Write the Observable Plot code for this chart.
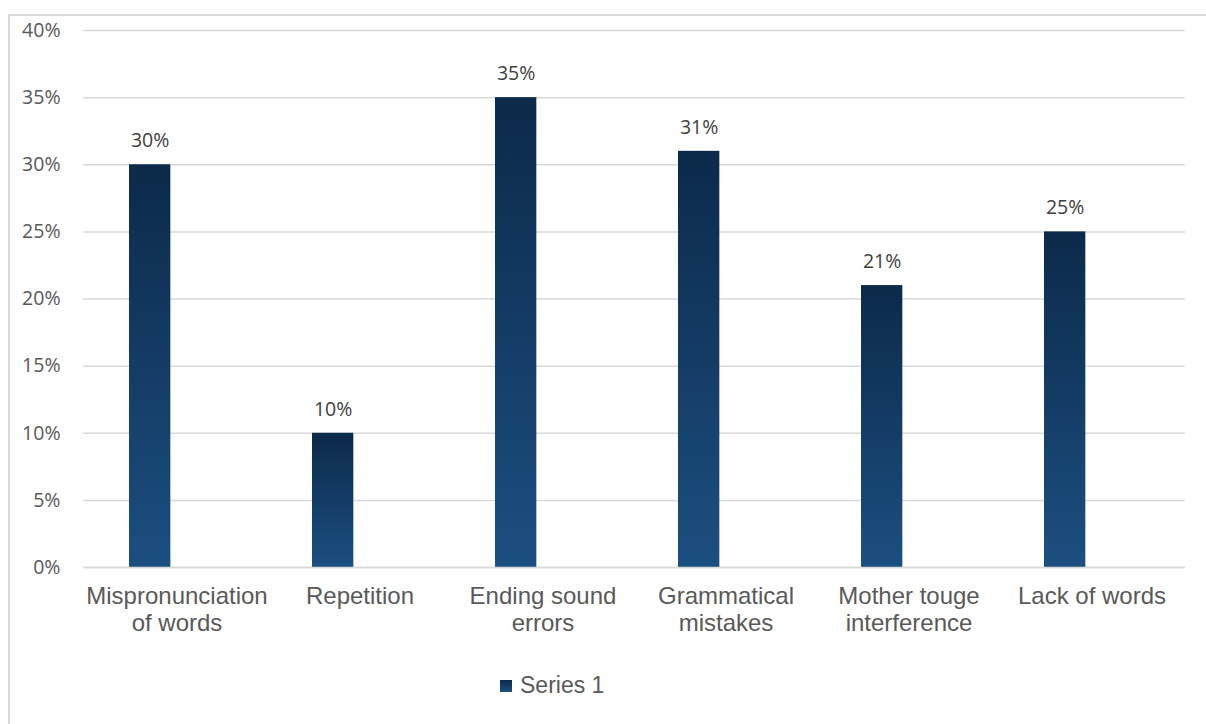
<!DOCTYPE html>
<html>
<head>
<meta charset="utf-8">
<script src="https://cdn.jsdelivr.net/npm/d3@7"></script>
<script src="https://cdn.jsdelivr.net/npm/@observablehq/plot@0.6"></script>
<style>
  html, body { margin: 0; padding: 0; background: #fff; width: 1206px; height: 724px; overflow: hidden; }
  #wrap { position: relative; width: 1206px; height: 724px; }
  #frame { position: absolute; left: 8px; top: 14px; width: 1260px; height: 800px; border: 2px solid #d9d9d9; box-sizing: border-box; }
  #chart { position: absolute; left: 0; top: 0; }
  #legend { position: absolute; left: 500px; top: 672px; display: flex; align-items: center; font-family: "Liberation Sans", Arial, sans-serif; font-size: 23px; color: #595959; }
  #legend .sw { width: 12px; height: 12px; background: linear-gradient(#0c2a4a, #1b4f80); margin-right: 8px; }
  #chart g[aria-label="x-axis tick label"] text { font-family: "Liberation Sans", Arial, sans-serif; }
</style>
</head>
<body>
<div id="wrap">
  <div id="frame"></div>
  <div id="chart"></div>
  <div id="legend"><span class="sw"></span><span>Series 1</span></div>
</div>
<script>
const categories = [
  "Mispronunciation\nof words",
  "Repetition",
  "Ending sound\nerrors",
  "Grammatical\nmistakes",
  "Mother touge\ninterference",
  "Lack of words"
];
const values = [0.30, 0.10, 0.35, 0.31, 0.21, 0.25];
const yTicks = [0, 0.05, 0.10, 0.15, 0.20, 0.25, 0.30, 0.35, 0.40];
const seriesName = "Series 1";

const data = categories.map((c, i) => ({category: c, value: values[i]}));
const pct = d3.format(".0%");

const W = 1206, H = 660;
const mL = 83, mR = 21, mT = 30, mB = 93;
const band = (W - mL - mR) / categories.length;
const insetL = 44, barW = 42;
const labelDx = insetL + barW / 2 - band / 2;

const plot = Plot.plot({
  width: W,
  height: H,
  marginLeft: mL,
  marginRight: mR,
  marginTop: mT,
  marginBottom: mB,
  style: {background: "transparent", overflow: "visible"},
  x: {domain: categories, padding: 0},
  y: {domain: [0, 0.4]},
  marks: [
    Plot.gridY(yTicks, {stroke: "#d9d9d9", strokeOpacity: 1, strokeWidth: 1.5}),
    Plot.axisY(yTicks, {
      tickSize: 0, tickPadding: 23, tickFormat: pct, label: null,
      fontSize: 19.5, fontFamily: "Open Sans", fill: "#595959"
    }),
    Plot.axisX({
      tickSize: 0, tickPadding: 17, label: null, lineHeight: 1.125,
      fontSize: 24, fontFamily: "Liberation Sans", fill: "#595959"
    }),
    Plot.barY(data, {
      x: "category", y: "value", fill: "url(#barGrad)",
      insetLeft: insetL, insetRight: band - insetL - barW
    }),
    Plot.ruleY([0], {stroke: "#d9d9d9", strokeWidth: 1.5}),
    Plot.text(data, {
      x: "category", y: "value", text: d => pct(d.value),
      dx: labelDx, dy: -24,
      fontSize: 19.5, fontFamily: "Open Sans", fill: "#404040"
    })
  ]
});

const ns = "http://www.w3.org/2000/svg";
const defs = document.createElementNS(ns, "defs");
const grad = document.createElementNS(ns, "linearGradient");
grad.setAttribute("id", "barGrad");
grad.setAttribute("x1", "0"); grad.setAttribute("y1", "0");
grad.setAttribute("x2", "0"); grad.setAttribute("y2", "1");
[["0%", "#0c2a4a"], ["100%", "#1b4f80"]].forEach(([o, c]) => {
  const s = document.createElementNS(ns, "stop");
  s.setAttribute("offset", o);
  s.setAttribute("stop-color", c);
  grad.appendChild(s);
});
defs.appendChild(grad);
plot.insertBefore(defs, plot.firstChild);

document.getElementById("chart").appendChild(plot);
document.querySelector("#legend span:last-child").textContent = seriesName;
</script>
</body>
</html>
